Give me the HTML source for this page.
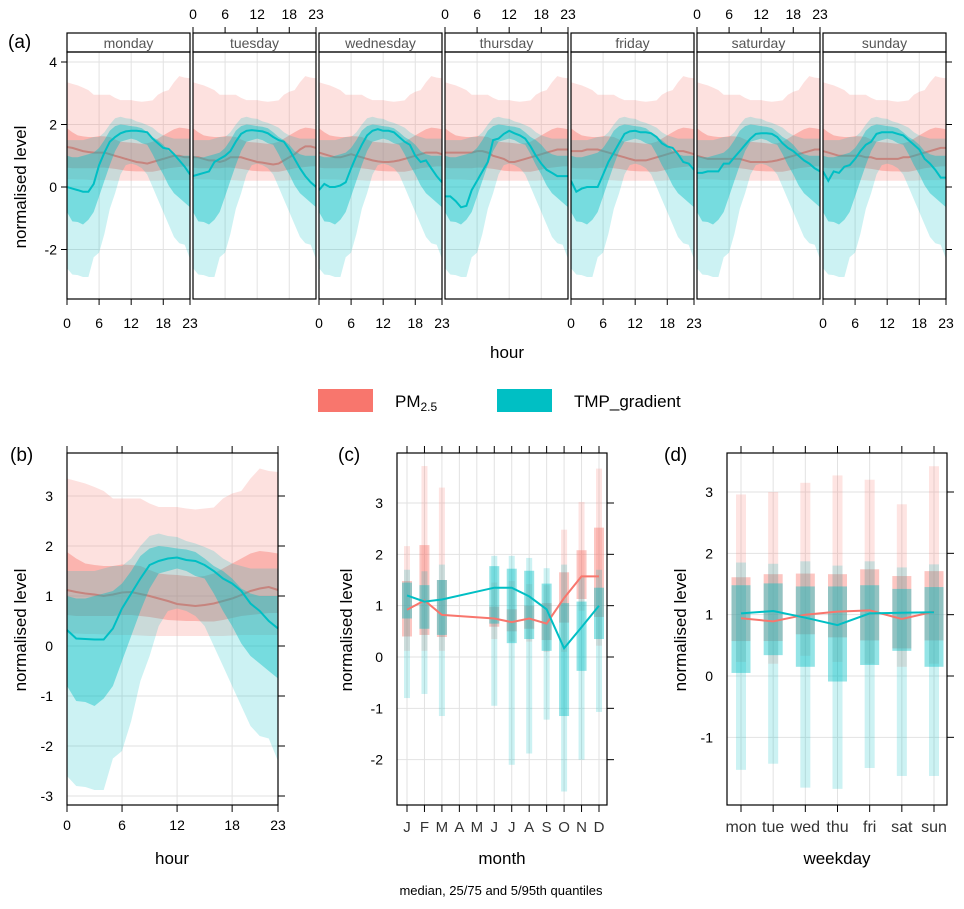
<!DOCTYPE html>
<html><head><meta charset="utf-8"><style>
body{margin:0;background:#fff}
svg{display:block;font-family:"Liberation Sans",Arial,sans-serif}
</style></head><body>
<svg id="chart" width="964" height="909" viewBox="0 0 964 909" xmlns="http://www.w3.org/2000/svg">
<g id="layer"></g>
</svg>
<script>
// ---------- data ----------
const hours = [0,1,2,3,4,5,6,7,8,9,10,11,12,13,14,15,16,17,18,19,20,21,22,23];
const hourTicks = [0,6,12,18,23];
const days = ["monday","tuesday","wednesday","thursday","friday","saturday","sunday"];
const dayShort = ["mon","tue","wed","thu","fri","sat","sun"];
const months = ["J","F","M","A","M","J","J","A","S","O","N","D"];

// panel (b) overall hourly quantiles
const pmMed = [1.12,1.08,1.05,1.03,1.0,1.03,1.07,1.08,1.04,1.0,0.95,0.9,0.84,0.82,0.8,0.82,0.85,0.9,0.95,1.02,1.1,1.15,1.18,1.12];
const pmQ25 = [0.62,0.6,0.6,0.6,0.6,0.6,0.62,0.62,0.6,0.58,0.55,0.52,0.51,0.5,0.5,0.49,0.49,0.52,0.56,0.6,0.62,0.64,0.66,0.66];
const pmQ75 = [1.88,1.75,1.65,1.62,1.6,1.6,1.63,1.62,1.6,1.52,1.45,1.43,1.42,1.4,1.38,1.4,1.45,1.55,1.65,1.75,1.85,1.9,1.88,1.85];
const pmQ5  = [0.25,0.25,0.24,0.24,0.23,0.22,0.22,0.22,0.21,0.2,0.2,0.2,0.2,0.2,0.2,0.2,0.2,0.2,0.21,0.22,0.22,0.22,0.22,0.22];
const pmQ95 = [3.35,3.3,3.25,3.18,3.1,2.95,2.95,2.95,2.95,2.85,2.78,2.78,2.78,2.75,2.73,2.75,2.77,2.95,3.05,3.1,3.35,3.55,3.5,3.48];
const tmpMed = [0.32,0.15,0.14,0.13,0.13,0.35,0.75,1.05,1.35,1.62,1.7,1.75,1.77,1.72,1.7,1.62,1.5,1.35,1.25,1.1,0.85,0.7,0.5,0.35];
const tmpQ25 = [-0.8,-1.1,-1.12,-1.2,-1.05,-0.8,-0.3,0.2,0.7,1.15,1.45,1.5,1.55,1.5,1.4,1.35,1.05,0.7,0.4,0.05,-0.2,-0.35,-0.5,-0.65];
const tmpQ75 = [1.0,0.95,0.95,1.0,1.05,1.1,1.25,1.5,1.8,1.95,2.0,1.98,1.95,1.93,1.88,1.75,1.6,1.5,1.35,1.15,1.05,1.0,1.0,1.0];
const tmpQ5  = [-2.6,-2.8,-2.82,-2.88,-2.88,-2.25,-2.1,-1.5,-0.7,-0.2,0.4,0.7,0.75,0.7,0.6,0.4,0.0,-0.4,-0.8,-1.2,-1.6,-1.8,-1.85,-2.3];
const tmpQ95 = [1.5,1.5,1.5,1.5,1.55,1.6,1.6,1.75,2.0,2.2,2.25,2.2,2.18,2.1,2.05,1.98,1.9,1.75,1.65,1.6,1.55,1.55,1.55,1.55];

// panel (a) per-day medians
const tmpDayMed = [
 [0.0,-0.05,-0.1,-0.15,-0.15,0.1,0.7,1.1,1.45,1.6,1.72,1.78,1.8,1.8,1.78,1.75,1.55,1.4,1.25,1.22,1.05,0.85,0.65,0.4],
 [0.35,0.4,0.45,0.5,0.8,0.9,1.0,1.15,1.45,1.7,1.8,1.82,1.8,1.78,1.72,1.6,1.5,1.45,1.2,0.9,0.6,0.35,0.15,0.0],
 [-0.1,0.1,0.0,0.0,0.05,0.15,0.6,1.0,1.35,1.65,1.8,1.85,1.8,1.8,1.75,1.6,1.45,1.35,1.0,0.8,0.85,0.6,0.35,0.15],
 [-0.3,-0.3,-0.45,-0.65,-0.6,-0.1,0.2,0.5,0.8,1.5,1.55,1.7,1.8,1.72,1.65,1.55,1.3,1.0,0.75,0.55,0.45,0.35,0.35,0.35],
 [0.2,-0.15,-0.05,0.0,0.0,0.0,0.4,0.8,1.1,1.4,1.7,1.78,1.8,1.75,1.75,1.72,1.6,1.4,1.3,1.25,1.05,0.8,0.75,0.55],
 [0.45,0.45,0.5,0.5,0.5,0.75,0.75,0.95,1.15,1.35,1.55,1.7,1.72,1.72,1.7,1.6,1.4,1.25,1.15,1.0,0.85,0.75,0.6,0.5],
 [0.5,0.2,0.5,0.45,0.65,0.7,0.9,1.15,1.35,1.45,1.7,1.75,1.75,1.75,1.7,1.65,1.5,1.35,1.2,0.9,0.75,0.55,0.3,0.3]
];
const pmDayMed = [
 [1.28,1.25,1.2,1.15,1.12,1.1,1.1,1.1,1.05,1.0,0.95,0.9,0.85,0.8,0.78,0.75,0.8,0.85,0.9,0.95,1.0,1.0,0.95,0.95],
 [0.95,0.95,0.9,0.85,0.85,0.8,0.85,0.95,0.95,0.95,0.9,0.85,0.8,0.78,0.75,0.72,0.75,0.85,0.95,1.05,1.2,1.3,1.3,1.25],
 [1.1,1.05,1.0,0.95,0.95,1.0,1.05,1.0,0.95,0.9,0.85,0.82,0.8,0.8,0.82,0.85,0.9,0.95,1.0,1.05,1.1,1.1,1.1,1.05],
 [1.1,1.1,1.1,1.1,1.1,1.1,1.15,1.15,1.1,1.0,0.95,0.9,0.8,0.8,0.85,0.9,0.95,1.0,1.05,1.1,1.15,1.2,1.2,1.2],
 [1.15,1.15,1.15,1.2,1.2,1.2,1.15,1.1,1.05,1.0,0.95,0.9,0.85,0.85,0.85,0.9,0.95,1.0,1.05,1.1,1.15,1.15,1.1,1.05],
 [1.0,0.95,0.9,0.9,0.9,0.9,0.9,0.9,0.9,0.85,0.8,0.8,0.8,0.8,0.82,0.85,0.9,0.95,1.0,1.05,1.1,1.15,1.2,1.2],
 [1.15,1.1,1.05,1.0,1.0,1.0,1.0,1.0,0.95,0.95,0.9,0.9,0.9,0.9,0.9,0.95,0.95,1.0,1.05,1.1,1.15,1.2,1.25,1.25]
];

// panel (c) monthly
const mPmMed = [0.92,1.1,0.82,null,null,0.75,0.68,0.75,0.65,1.15,1.57,1.57];
const mPmQ25 = [0.4,0.43,0.39,null,null,0.59,0.5,0.55,0.33,0.67,1.13,0.78];
const mPmQ75 = [1.48,2.18,1.5,null,null,0.98,0.93,1.0,1.05,1.65,2.08,2.52];
const mPmQ5  = [0.12,0.12,0.12,null,null,0.35,0.3,0.3,0.1,0.1,0.9,0.22];
const mPmQ95 = [2.16,3.72,3.3,null,null,1.45,1.48,1.42,1.4,2.48,3.02,3.67];
const mTmpMed = [1.2,1.08,1.12,null,null,1.35,1.35,1.18,0.93,0.17,0.58,1.0];
const mTmpQ25 = [0.75,0.55,0.43,null,null,0.65,0.27,0.35,0.12,-1.15,-0.27,0.35];
const mTmpQ75 = [1.45,1.4,1.5,null,null,1.77,1.72,1.68,1.43,1.05,1.08,1.35];
const mTmpQ5  = [-0.8,-0.72,-1.15,null,null,-0.95,-2.1,-1.88,-1.22,-2.62,-2.0,-1.07];
const mTmpQ95 = [1.7,1.67,1.8,null,null,1.97,1.97,1.93,1.73,1.8,1.55,1.7];

// panel (d) weekday
const wPmMed = [0.94,0.89,1.0,1.05,1.07,0.93,1.05];
const wPmQ25 = [0.57,0.57,0.68,0.63,0.58,0.45,0.58];
const wPmQ75 = [1.61,1.66,1.67,1.66,1.74,1.63,1.71];
const wPmQ5  = [0.23,0.2,0.33,0.23,0.2,0.15,0.2];
const wPmQ95 = [2.96,3.0,3.15,3.27,3.2,2.8,3.42];
const wTmpMed = [1.02,1.06,0.95,0.83,1.02,1.03,1.04];
const wTmpQ25 = [0.05,0.34,0.15,-0.09,0.18,0.41,0.15];
const wTmpQ75 = [1.48,1.51,1.46,1.46,1.48,1.42,1.45];
const wTmpQ5  = [-1.53,-1.43,-1.82,-1.84,-1.5,-1.63,-1.63];
const wTmpQ95 = [1.85,1.83,1.87,1.8,1.87,1.77,1.82];

// ---------- drawing ----------
const NS="http://www.w3.org/2000/svg";
const root=document.getElementById('layer');
const PM="#F8766D", TMP="#00BFC4", GRID="#e2e2e2";
function mk(tag,attrs,parent){const e=document.createElementNS(NS,tag);for(const k in attrs)e.setAttribute(k,attrs[k]);(parent||root).appendChild(e);return e;}
function txt(s,x,y,size,anchor,parent,extra){const t=mk('text',Object.assign({x:x,y:y,'font-size':size,'text-anchor':anchor||'middle',fill:'#000'},extra||{}),parent);t.textContent=s;return t;}
function lin(x0,x1,d0,d1){return v=>x0+(v-d0)*(x1-x0)/(d1-d0);}
function bandPath(xs,lo,hi,X,Y){let p='';xs.forEach((h,i)=>{p+=(i?'L':'M')+X(h).toFixed(1)+','+Y(hi[i]).toFixed(1);});for(let i=xs.length-1;i>=0;i--)p+='L'+X(xs[i]).toFixed(1)+','+Y(lo[i]).toFixed(1);return p+'Z';}
function linePath(xs,v,X,Y){let p='';let first=true;xs.forEach((h,i)=>{if(v[i]==null)return;p+=(first?'M':'L')+X(h).toFixed(1)+','+Y(v[i]).toFixed(1);first=false;});return p;}

function hourPanel(g,X,Y,pm,tm){
  const a=mk('path',{d:bandPath(hours,pm.q5,pm.q95,X,Y),fill:PM,'fill-opacity':0.22},g);
  
  const b=mk('path',{d:bandPath(hours,pm.q25,pm.q75,X,Y),fill:PM,'fill-opacity':0.42},g);
  
  const c=mk('path',{d:linePath(hours,pm.med,X,Y),fill:'none',stroke:PM,'stroke-width':2},g);
  
  const d=mk('path',{d:bandPath(hours,tm.q5,tm.q95,X,Y),fill:TMP,'fill-opacity':0.2},g);
  
  const e=mk('path',{d:bandPath(hours,tm.q25,tm.q75,X,Y),fill:TMP,'fill-opacity':0.42},g);
  
  const f=mk('path',{d:linePath(hours,tm.med,X,Y),fill:'none',stroke:TMP,'stroke-width':2},g);
  
}

// ===== panel (a) =====
(function(){
  const g=mk('g',{});
  
  const top=52,bot=299,Y=lin(187,62,0,4);
  const yTicks=[-2,0,2,4];
  txt('(a)',8,48,19,'start',g);
  days.forEach((day,di)=>{
    const x0=67+di*126,x1=x0+123;
    const X=lin(x0,x1,0,23);
    const pg=mk('g',{},g);
    
    yTicks.forEach(t=>mk('line',{x1:x0,x2:x1,y1:Y(t),y2:Y(t),stroke:GRID},pg));
    [6,12,18].forEach(h=>mk('line',{x1:X(h),x2:X(h),y1:top,y2:bot,stroke:GRID},pg));
    const cp=mk('clipPath',{id:'cp'+di},pg);mk('rect',{x:x0,y:top,width:123,height:bot-top},cp);
    const dg=mk('g',{'clip-path':'url(#cp'+di+')'},pg);
    hourPanel(dg,X,Y,{med:pmDayMed[di],q25:pmQ25,q75:pmQ75,q5:pmQ5,q95:pmQ95},{med:tmpDayMed[di],q25:tmpQ25,q75:tmpQ75,q5:tmpQ5,q95:tmpQ95});
    const st=mk('rect',{x:x0,y:33,width:123,height:19,fill:'#fff',stroke:'#000','stroke-width':1.2},pg);
    
    txt(day,(x0+x1)/2,48,14,'middle',pg,{fill:'#555'});
    mk('rect',{x:x0,y:top,width:123,height:bot-top,fill:'none',stroke:'#000','stroke-width':1.2},pg);
    const bottomSide = (di%2===0);
    hourTicks.forEach(h=>{
      if(bottomSide){mk('line',{x1:X(h),x2:X(h),y1:bot,y2:bot+6,stroke:'#000'},pg);txt(String(h),X(h),328,14,'middle',pg);}
      else{mk('line',{x1:X(h),x2:X(h),y1:33,y2:27,stroke:'#000'},pg);txt(String(h),X(h),19,14,'middle',pg);}
    });
    if(di===0){yTicks.forEach(t=>{mk('line',{x1:x0,x2:x0-6,y1:Y(t),y2:Y(t),stroke:'#000'},pg);txt(String(t),x0-10,Y(t)+5,14,'end',pg);});}
    if(di===6){yTicks.forEach(t=>mk('line',{x1:x1,x2:x1+6,y1:Y(t),y2:Y(t),stroke:'#000'},pg));}
  });
  const yt=txt('normalised level',26,187,17,'middle',g,{transform:'rotate(-90 26 187)'});
  
  const xt=txt('hour',507,358,17,'middle',g);
  
})();

// ===== legend =====
(function(){
  const g=mk('g',{});
  
  const r1=mk('rect',{x:318,y:389,width:55,height:23,fill:PM},g);
  
  const t1=mk('text',{x:395,y:407,'font-size':17},g);t1.innerHTML='PM<tspan font-size="12" dy="4">2.5</tspan>';
  
  const r2=mk('rect',{x:497,y:389,width:55,height:23,fill:TMP},g);
  
  const t2=txt('TMP_gradient',574,407,17,'start',g);
  
})();

function frameAxes(g,x0,x1,top,bot,Y,yTicks,xTicksPos,xLabels){
  yTicks.forEach(t=>{mk('line',{x1:x1,x2:x1+7,y1:Y(t),y2:Y(t),stroke:'#000'},g);txt(String(t),x0-14,Y(t)+5,14,'end',g);});
  xTicksPos.forEach((x,i)=>{mk('line',{x1:x,x2:x,y1:bot,y2:bot+7,stroke:'#000'},g);mk('line',{x1:x,x2:x,y1:top,y2:top-7,stroke:'#000'},g);txt(xLabels[i],x,bot+27,xLabels[i].length>2?16:15,'middle',g,{fill:xLabels[i].length>2||/[A-Z]/.test(xLabels[i])?'#333':'#000'});});
  mk('rect',{x:x0,y:top,width:x1-x0,height:bot-top,fill:'none',stroke:'#000','stroke-width':1.2},g);
}

// ===== panel (b) =====
(function(){
  const g=mk('g',{});
  
  const x0=67,x1=278,top=453,bot=805;
  const X=lin(x0,x1,0,23),Y=lin(646,496,0,3);
  const yTicks=[-3,-2,-1,0,1,2,3];
  yTicks.forEach(t=>mk('line',{x1:x0,x2:x1,y1:Y(t),y2:Y(t),stroke:GRID},g));
  [6,12,18].forEach(h=>mk('line',{x1:X(h),x2:X(h),y1:top,y2:bot,stroke:GRID},g));
  hourPanel(g,X,Y,{med:pmMed,q25:pmQ25,q75:pmQ75,q5:pmQ5,q95:pmQ95},{med:tmpMed,q25:tmpQ25,q75:tmpQ75,q5:tmpQ5,q95:tmpQ95});
  yTicks.forEach(t=>{mk('line',{x1:x1,x2:x1+7,y1:Y(t),y2:Y(t),stroke:'#000'},g);txt(String(t),x0-14,Y(t)+5,14,'end',g);});
  hourTicks.forEach(h=>{mk('line',{x1:X(h),x2:X(h),y1:bot,y2:bot+7,stroke:'#000'},g);mk('line',{x1:X(h),x2:X(h),y1:top,y2:top-7,stroke:'#000'},g);txt(String(h),X(h),bot+25,14,'middle',g);});
  mk('rect',{x:x0,y:top,width:x1-x0,height:bot-top,fill:'none',stroke:'#000','stroke-width':1.2},g);
  txt('(b)',10,461,19,'start',g);
  const yt=txt('normalised level',26,630,17,'middle',g,{transform:'rotate(-90 26 630)'});
  
  const xt=txt('hour',172,864,17,'middle',g);
  
})();

function barPanel(g,cats,X,Y,wThin,wWide,pm,tm){
  const series=[[pm,PM,'pm25'],[tm,TMP,'tmp']];
  series.forEach(([s,col,nm])=>{
    cats.forEach((c,i)=>{
      if(s.q5[i]==null)return;
      const r1=mk('rect',{x:X(i)-wThin/2,y:Y(s.q95[i]),width:wThin,height:Y(s.q5[i])-Y(s.q95[i]),fill:col,'fill-opacity':0.2},g);
      
      const r2=mk('rect',{x:X(i)-wWide/2,y:Y(s.q75[i]),width:wWide,height:Y(s.q25[i])-Y(s.q75[i]),fill:col,'fill-opacity':0.42},g);
      
    });
  });
  series.forEach(([s,col,nm])=>{
    const l=mk('path',{d:linePath(cats.map((c,i)=>i),s.med,X,Y),fill:'none',stroke:col,'stroke-width':2},g);
    
  });
}

// ===== panel (c) =====
(function(){
  const g=mk('g',{});
  
  const x0=397,x1=607,top=453,bot=805;
  const X=lin(407,599,0,11),Y=lin(657,503,0,3);
  const yTicks=[-2,-1,0,1,2,3];
  yTicks.forEach(t=>mk('line',{x1:x0,x2:x1,y1:Y(t),y2:Y(t),stroke:GRID},g));
  months.forEach((m,i)=>mk('line',{x1:X(i),x2:X(i),y1:top,y2:bot,stroke:GRID},g));
  barPanel(g,months,X,Y,6,10,{med:mPmMed,q25:mPmQ25,q75:mPmQ75,q5:mPmQ5,q95:mPmQ95},{med:mTmpMed,q25:mTmpQ25,q75:mTmpQ75,q5:mTmpQ5,q95:mTmpQ95});
  frameAxes(g,x0,x1,top,bot,Y,yTicks,months.map((m,i)=>X(i)),months);
  txt('(c)',338,461,19,'start',g);
  const yt=txt('normalised level',352,630,17,'middle',g,{transform:'rotate(-90 352 630)'});
  
  const xt=txt('month',502,864,17,'middle',g);
  
})();

// ===== panel (d) =====
(function(){
  const g=mk('g',{});
  
  const x0=727,x1=947,top=453,bot=805;
  const X=lin(741,934,0,6),Y=lin(676,492,0,3);
  const yTicks=[-1,0,1,2,3];
  yTicks.forEach(t=>mk('line',{x1:x0,x2:x1,y1:Y(t),y2:Y(t),stroke:GRID},g));
  dayShort.forEach((m,i)=>mk('line',{x1:X(i),x2:X(i),y1:top,y2:bot,stroke:GRID},g));
  barPanel(g,dayShort,X,Y,10,19,{med:wPmMed,q25:wPmQ25,q75:wPmQ75,q5:wPmQ5,q95:wPmQ95},{med:wTmpMed,q25:wTmpQ25,q75:wTmpQ75,q5:wTmpQ5,q95:wTmpQ95});
  frameAxes(g,x0,x1,top,bot,Y,yTicks,dayShort.map((m,i)=>X(i)),dayShort);
  txt('(d)',664,461,19,'start',g);
  const yt=txt('normalised level',686,630,17,'middle',g,{transform:'rotate(-90 686 630)'});
  
  const xt=txt('weekday',837,864,17,'middle',g);
  
})();

const foot=txt('median, 25/75 and 5/95th quantiles',501,895,13,'middle');


</script>
</body></html>
